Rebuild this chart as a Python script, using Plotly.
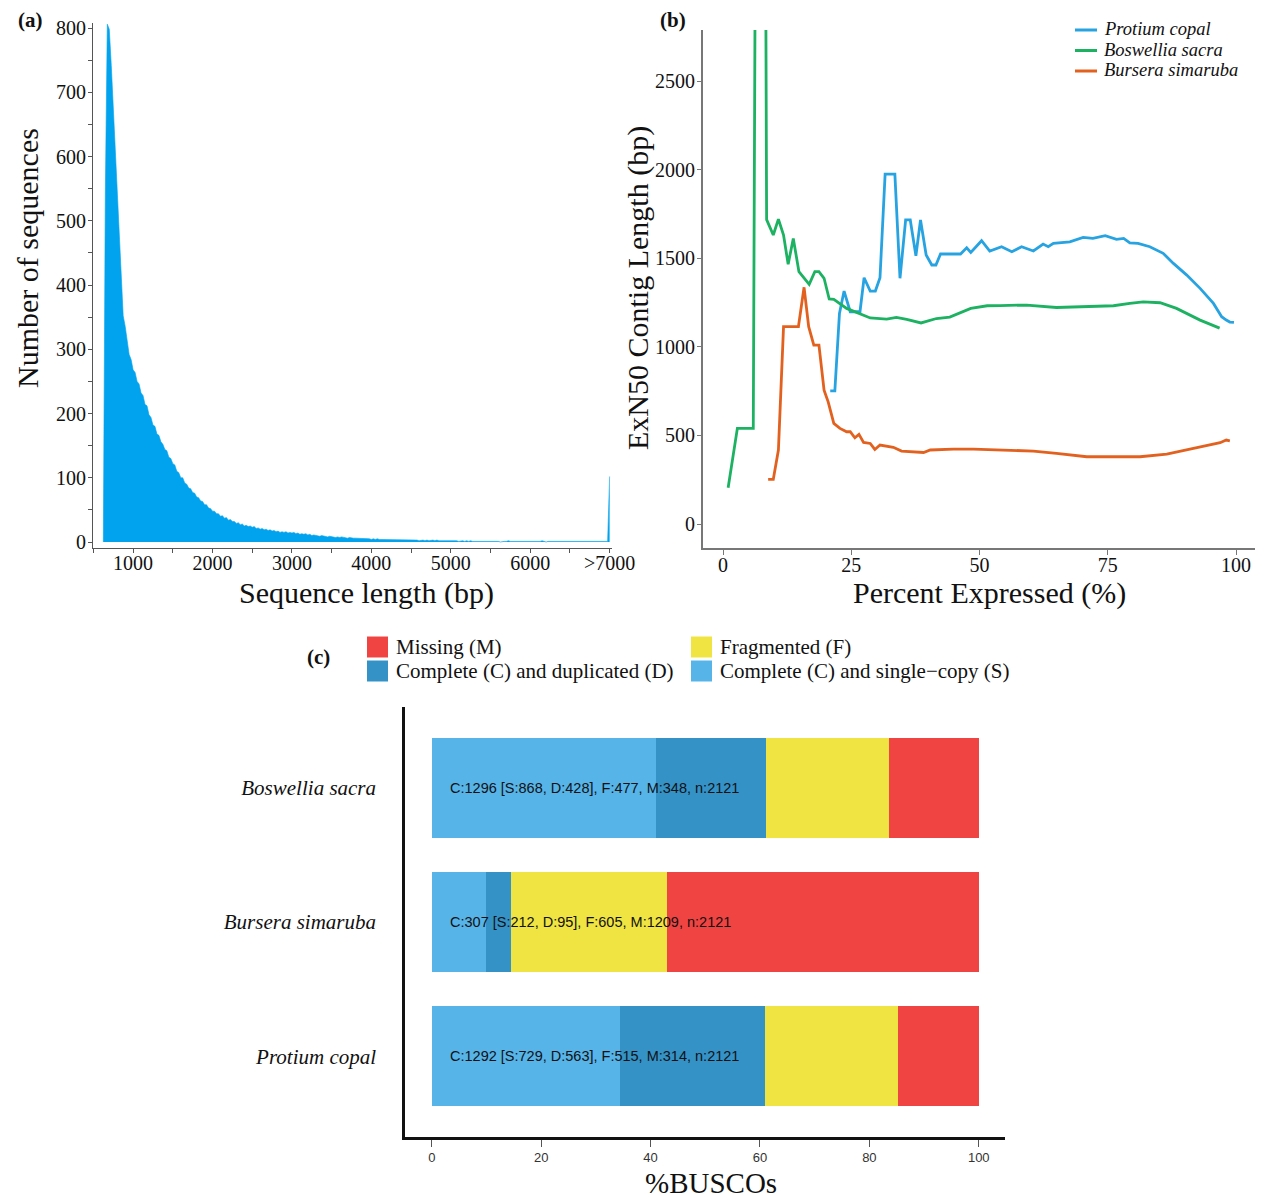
import plotly.graph_objects as go

# ---------------- (a) sequence length distribution ----------------
hist_bin_start = 625          # bp, first bin position
hist_bin_width = 25           # bp
hist_counts = [
    # 625-1000
    0, 540, 806, 798, 742, 676, 604, 526, 468, 404, 352, 336, 312, 292, 284, 268,
    # 1025-1500
    264, 250, 246, 232, 228, 214, 212, 198, 194, 182, 180, 168, 166, 156, 152, 144, 142, 132, 130, 122,
    # 1525-2000
    120, 110, 108, 100, 100, 92, 90, 84, 83, 77, 76, 70, 69, 64, 63, 58, 58, 53, 52, 48,
    # 2025-2500
    48, 44, 44, 40, 41, 37, 38, 34, 35, 32, 32, 29, 30, 27, 28, 25, 26, 24, 25, 23,
    # 2525-3000
    24, 21, 22, 20, 21, 19, 20, 18, 19, 17, 18, 16, 17, 15, 16, 15, 16, 14, 15, 14,
    # 3025-3500
    15, 13, 14, 12, 13, 12, 13, 11, 12, 10, 11, 10, 10, 9, 10, 9, 9, 8, 9, 8,
    # 3525-4000
    8, 7, 8, 7, 8, 7, 7, 6, 7, 6, 6, 6, 6, 5, 6, 5, 5, 5, 5, 4,
    # 4025-4500
    5, 4, 5, 4, 4, 4, 4, 4, 4, 3, 4, 3, 4, 3, 3, 3, 4, 3, 3, 3,
    # 4525-5000
    3, 3, 3, 2, 3, 3, 2, 3, 2, 3, 3, 2, 3, 2, 2, 3, 2, 2, 3, 2,
    # 5025-5500
    2, 2, 2, 1, 2, 2, 1, 2, 1, 2, 1, 1, 2, 1, 1, 2, 1, 1, 1, 1,
    # 5525-6000
    1, 1, 2, 1, 0, 1, 1, 1, 2, 1, 1, 0, 1, 1, 1, 1, 0, 1, 1, 1,
    # 6025-6500
    1, 1, 0, 1, 1, 2, 1, 0, 1, 1, 0, 1, 1, 1, 0, 1, 1, 0, 1, 1,
    # 6525-6975
    0, 1, 1, 1, 0, 1, 1, 1, 0, 1, 1, 1, 1, 0, 1, 1, 1, 1, 1,
    # >7000
    102,
]
hist_tickvals = [1000, 2000, 3000, 4000, 5000, 6000, 7000]
hist_ticktext = ["1000", "2000", "3000", "4000", "5000", "6000", ">7000"]
hist_minor = [500, 1500, 2500, 3500, 4500, 5500, 6500]

# ---------------- (b) ExN50 curves ----------------
protium_x = [20.9, 21.8, 22.7, 23.6, 24.8, 26.7, 27.5, 28.7, 29.7, 30.6, 31.6, 33.5, 34.5, 35.6,
             36.5, 37.6, 38.5, 39.6, 40.7, 41.5, 42.4, 46.3, 47.5, 48.3, 50.4, 52.0, 54.3, 56.3,
             58.2, 60.5, 62.4, 63.4, 64.4, 67.6, 70.2, 72.1, 74.5, 76.7, 78.1, 79.3, 80.9, 83.2,
             85.8, 87.8, 90.4, 93.0, 95.6, 97.2, 98.1, 98.8, 99.6]
protium_y = [752, 752, 1189, 1315, 1198, 1198, 1390, 1315, 1315, 1390, 1975, 1975, 1387, 1716,
             1716, 1514, 1716, 1518, 1462, 1462, 1524, 1524, 1559, 1533, 1599, 1540, 1565, 1537,
             1565, 1541, 1580, 1565, 1584, 1593, 1618, 1612, 1627, 1607, 1612, 1587, 1584, 1565,
             1528, 1471, 1405, 1330, 1245, 1170, 1151, 1140, 1138]

boswellia_x = [1.0, 2.8, 5.9, 6.3, 8.3, 8.5, 9.8, 10.8, 11.8, 12.7, 13.7, 14.8, 16.8, 17.9, 18.7,
               19.7, 20.7, 21.6, 24.1, 26.5, 28.7, 31.9, 33.8, 35.8, 38.6, 41.6, 44.2, 48.3, 51.5,
               54.0, 59.2, 65.0, 70.9, 76.1, 79.3, 81.9, 85.2, 88.4, 93.0, 96.8]
boswellia_y = [205, 540, 540, 3300, 3300, 1718, 1631, 1721, 1631, 1466, 1612, 1424, 1353, 1424,
               1424, 1387, 1270, 1268, 1217, 1190, 1163, 1157, 1166, 1155, 1135, 1160, 1168, 1217,
               1232, 1233, 1236, 1222, 1228, 1232, 1245, 1254, 1249, 1217, 1151, 1106]

bursera_x = [8.8, 9.8, 10.8, 11.8, 14.7, 15.8, 16.7, 17.7, 18.7, 19.7, 20.5, 21.6, 22.8, 24.1,
             24.8, 25.7, 26.5, 27.4, 28.7, 29.6, 30.6, 32.2, 33.2, 34.8, 37.8, 39.1, 40.4, 44.9,
             48.8, 54.0, 60.5, 65.0, 70.9, 76.7, 81.3, 86.5, 91.0, 94.9, 96.9, 98.1, 98.8]
bursera_y = [252, 252, 418, 1114, 1114, 1336, 1114, 1010, 1010, 756, 690, 568, 540, 521,
             521, 487, 506, 461, 455, 421, 446, 437, 433, 412, 404, 404, 418, 423,
             423, 418, 412, 399, 380, 380, 380, 395, 421, 446, 459, 474, 470]

exn50_tickvals_x = [0, 25, 50, 75, 100]
exn50_tickvals_y = [0, 500, 1000, 1500, 2000, 2500]

# ---------------- (c) BUSCO ----------------
busco_species = ["Protium copal", "Bursera simaruba", "Boswellia sacra"]
busco_S = [729, 212, 868]
busco_D = [563, 95, 428]
busco_F = [515, 605, 477]
busco_M = [314, 1209, 348]
busco_n = 2121
busco_ticks = [0, 20, 40, 60, 80, 100]

# ---------------- styling ----------------
OFF = 8                      # the page body adds an 8 px margin
W, H = 1270 - OFF, 1200 - OFF
SERIF = "Liberation Serif"
SANS = "Liberation Sans"
C_HIST = "#02A3EE"
C_PROT = "#27A3E1"
C_BOSW = "#1DB262"
C_BURS = "#E3611F"
C_S, C_D, C_F, C_M = "#56B4E9", "#3492C7", "#F0E442", "#F04442"
TXT = "#111111"


def fx(p):
    return (p - OFF) / W


def fy(p):
    return 1 - (p - OFF) / H


fig = go.Figure()

# (a)
hist_x = [hist_bin_start + i * hist_bin_width for i in range(len(hist_counts))]
fig.add_trace(go.Scatter(x=hist_x, y=hist_counts, mode="lines", fill="tozeroy",
                         line=dict(color=C_HIST, width=0.6), fillcolor=C_HIST,
                         showlegend=False, xaxis="x", yaxis="y", hoverinfo="x+y"))

# (b)
for nm, xs, ys, col in [("Protium copal", protium_x, protium_y, C_PROT),
                        ("Boswellia sacra", boswellia_x, boswellia_y, C_BOSW),
                        ("Bursera simaruba", bursera_x, bursera_y, C_BURS)]:
    fig.add_trace(go.Scatter(x=xs, y=ys, mode="lines", name=nm,
                             line=dict(color=col, width=2.8),
                             showlegend=False, xaxis="x2", yaxis="y2"))

# (c)
pct = lambda arr: [100.0 * v / busco_n for v in arr]
for nm, arr, col in [("Complete (C) and single\u2212copy (S)", busco_S, C_S),
                     ("Complete (C) and duplicated (D)", busco_D, C_D),
                     ("Fragmented (F)", busco_F, C_F),
                     ("Missing (M)", busco_M, C_M)]:
    fig.add_trace(go.Bar(y=busco_species, x=pct(arr), orientation="h", name=nm,
                         marker=dict(color=col, line=dict(width=0)), width=0.743,
                         showlegend=False, xaxis="x3", yaxis="y3"))

annotations = []
for sp, s, d, f, m in zip(busco_species, busco_S, busco_D, busco_F, busco_M):
    annotations.append(dict(
        x=3, y=sp, xref="x3", yref="y3", xanchor="left", yanchor="middle",
        text=f"C:{s + d} [S:{s}, D:{d}], F:{f}, M:{m}, n:{busco_n}",
        showarrow=False, font=dict(family=SANS, size=14.5, color=TXT)))

# panel labels
for txt, x, y in [("(a)", 30, 20), ("(b)", 673, 20), ("(c)", 318, 657)]:
    annotations.append(dict(x=fx(x), y=fy(y), xref="paper", yref="paper",
                            xanchor="center", yanchor="middle", showarrow=False,
                            text=f"<b>{txt}</b>", font=dict(family=SERIF, size=21, color=TXT)))

# axis titles (placed as in the original figure)
for txt, x, y, ang, sz in [("Number of sequences", 27, 258, -90, 30),
                           ("Sequence length (bp)", 366, 593, 0, 30),
                           ("ExN50 Contig Length (bp)", 638, 288, -90, 30),
                           ("Percent Expressed (%)", 989, 593, 0, 30),
                           ("%BUSCOs", 711, 1183, 0, 29)]:
    annotations.append(dict(x=fx(x), y=fy(y), xref="paper", yref="paper",
                            xanchor="center", yanchor="middle", showarrow=False,
                            textangle=ang, text=txt,
                            font=dict(family=SERIF, size=sz, color=TXT)))

shapes = []
# (b) legend (manual, compact like the original)
for i, (nm, col) in enumerate([("Protium copal", C_PROT), ("Boswellia sacra", C_BOSW),
                               ("Bursera simaruba", C_BURS)]):
    yy = 29 + i * 20.5
    shapes.append(dict(type="line", xref="paper", yref="paper",
                       x0=fx(1075), x1=fx(1097), y0=fy(yy + 1), y1=fy(yy + 1),
                       line=dict(color=col, width=3)))
    annotations.append(dict(x=fx(1102), y=fy(yy), xref="paper", yref="paper",
                            xanchor="left", yanchor="middle", showarrow=False,
                            text=f"<i>{nm}</i>", font=dict(family=SERIF, size=18.5, color=TXT)))

# (c) legend (manual)
leg_items = [("Missing (M)", C_M, 367, 647), ("Fragmented (F)", C_F, 691, 647),
             ("Complete (C) and duplicated (D)", C_D, 367, 671),
             ("Complete (C) and single\u2212copy (S)", C_S, 691, 671)]
for nm, col, x0, yc in leg_items:
    shapes.append(dict(type="rect", xref="paper", yref="paper",
                       x0=fx(x0), x1=fx(x0 + 21), y0=fy(yc - 10.5), y1=fy(yc + 10.5),
                       fillcolor=col, line=dict(width=0)))
    annotations.append(dict(x=fx(x0 + 27), y=fy(yc), xref="paper", yref="paper",
                            xanchor="left", yanchor="middle", showarrow=False,
                            text=nm, font=dict(family=SERIF, size=21, color=TXT)))

tickfont = dict(family=SERIF, size=20, color=TXT)

fig.update_layout(
    width=W, height=H, margin=dict(l=0, r=0, t=0, b=0, autoexpand=False),
    paper_bgcolor="white", plot_bgcolor="white",
    font=dict(family=SERIF, color=TXT),
    barmode="stack", showlegend=False,
    annotations=annotations, shapes=shapes,
    xaxis=dict(domain=[fx(93), fx(612)], range=[495, 7030], anchor="y",
               showline=True, linecolor="#555555", linewidth=1, showgrid=False, zeroline=False,
               ticks="outside", ticklen=4, tickcolor="#555555", tickvals=hist_tickvals,
               ticktext=hist_ticktext, tickfont=tickfont, ticklabelstandoff=-7,
               minor=dict(tickvals=hist_minor, ticks="outside", ticklen=4, tickcolor="#555555"),
               automargin=False),
    yaxis=dict(domain=[fy(548), fy(23)], range=[-9.3, 807.8], anchor="x",
               showline=True, linecolor="#555555", linewidth=1, showgrid=False, zeroline=False,
               ticks="outside", ticklen=4, tickcolor="#555555", dtick=100, tick0=0,
               tickfont=tickfont, ticklabelstandoff=-2,
               minor=dict(dtick=50, tick0=0, ticks="outside", ticklen=4, tickcolor="#555555"),
               automargin=False),
    xaxis2=dict(domain=[fx(703), fx(1255)], range=[-3.9, 103.7], anchor="y2",
                showline=True, linecolor="#777777", linewidth=2, showgrid=False, zeroline=False,
                ticks="outside", ticklen=5, tickcolor="#777777", tickvals=exn50_tickvals_x,
                tickfont=tickfont, ticklabelstandoff=-7, automargin=False),
    yaxis2=dict(domain=[fy(548), fy(30)], range=[-135, 2788], anchor="x2",
                showline=True, linecolor="#777777", linewidth=2, showgrid=False, zeroline=False,
                ticks="outside", ticklen=4, tickcolor="#777777", tickvals=exn50_tickvals_y,
                tickfont=tickfont, ticklabelstandoff=-2, automargin=False),
    xaxis3=dict(domain=[fx(405), fx(1005)], range=[-4.9, 104.8], anchor="y3",
                showline=True, linecolor="#111111", linewidth=2.5, showgrid=False, zeroline=False,
                ticks="outside", ticklen=7, tickcolor="#555555", tickvals=busco_ticks,
                tickfont=dict(family=SANS, size=13, color="#333333"), automargin=False),
    yaxis3=dict(domain=[fy(1137), fy(707)], range=[-0.6, 2.6], anchor="x3",
                type="category", categoryorder="array", categoryarray=busco_species,
                showline=True, linecolor="#111111", linewidth=2.5, showgrid=False, zeroline=False,
                ticks="", ticklabelstandoff=22,
                tickfont=dict(family=SERIF, size=21, color=TXT, style="italic"),
                automargin=False),
)

fig.write_html("out.html")
